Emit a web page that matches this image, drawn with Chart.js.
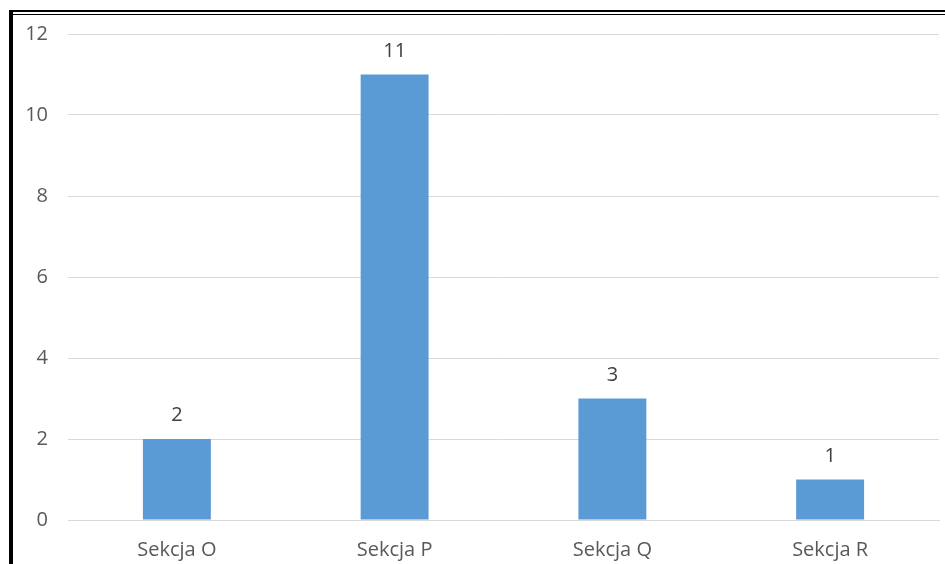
<!DOCTYPE html>
<html>
<head>
<meta charset="utf-8">
<script src="https://cdn.jsdelivr.net/npm/chart.js@4"></script>
<style>
  html, body { margin: 0; padding: 0; background: #fff; }
  #wrap { position: relative; width: 945px; height: 564px; }
  #frameLeft { position: absolute; left: 9px; top: 10px; width: 4px; height: 554px; background: #000; }
  #frameTop { position: absolute; left: 9px; top: 10px; right: 0; height: 5px; border-top: 2px solid #000; border-bottom: 1px solid #000; box-sizing: border-box; }
</style>
</head>
<body>
<div id="wrap">
  <canvas id="myChart" width="945" height="564"></canvas>
  <div id="frameLeft"></div>
  <div id="frameTop"></div>
</div>
<script>
const categories = ['Sekcja O', 'Sekcja P', 'Sekcja Q', 'Sekcja R'];
const values = [2, 11, 3, 1];
const yTicks = [0, 2, 4, 6, 8, 10, 12];

const fontFamily = '"Open Sans", "Liberation Sans", sans-serif';

// value labels above each bar
const valueLabels = {
    id: 'valueLabels',
    afterDatasetsDraw(chart) {
        const c = chart.ctx;
        const meta = chart.getDatasetMeta(0);
        c.save();
        c.fillStyle = '#404040';
        c.font = '20px ' + fontFamily;
        c.textAlign = 'center';
        c.textBaseline = 'alphabetic';
        meta.data.forEach((bar, i) => {
            c.fillText(String(values[i]), bar.x, bar.y - 18);
        });
        c.restore();
    }
};

const ctx = document.getElementById('myChart').getContext('2d');
const myChart = new Chart(ctx, {
    type: 'bar',
    data: {
        labels: categories,
        datasets: [{
            data: values,
            backgroundColor: '#5B9BD5',
            borderWidth: 0,
            categoryPercentage: 1,
            barPercentage: 0.312
        }]
    },
    options: {
        responsive: false,
        animation: false,
        layout: { padding: { top: 34, right: 6, left: 0, bottom: 0 } },
        plugins: { legend: { display: false }, tooltip: { enabled: false } },
        scales: {
            x: {
                grid: { display: false, drawTicks: false },
                border: { display: true, color: '#D9D9D9', width: 1 },
                ticks: { color: '#595959', font: { family: fontFamily, size: 20 }, padding: 18, maxRotation: 0 },
                afterFit: s => { s.height = 44; }
            },
            y: {
                min: 0,
                max: 12,
                afterBuildTicks: s => { s.ticks = yTicks.map(v => ({ value: v })); },
                grid: { color: '#D9D9D9', drawTicks: false },
                border: { display: false },
                ticks: { color: '#595959', font: { family: fontFamily, size: 20 }, padding: 20 },
                afterFit: s => { s.width = 68; }
            }
        }
    },
    plugins: [valueLabels]
});
</script>
</body>
</html>
